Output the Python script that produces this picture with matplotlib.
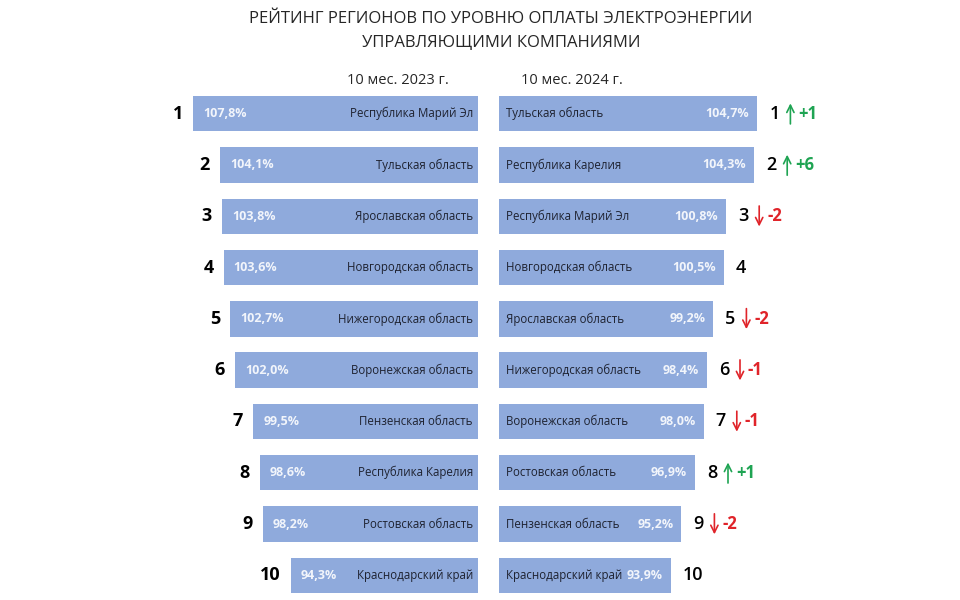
import matplotlib
matplotlib.use("Agg")
import matplotlib.pyplot as plt
from matplotlib.transforms import ScaledTranslation

# ---------------- data ----------------
title_lines = ["РЕЙТИНГ РЕГИОНОВ ПО УРОВНЮ ОПЛАТЫ ЭЛЕКТРОЭНЕРГИИ",
               "УПРАВЛЯЮЩИМИ КОМПАНИЯМИ"]
period_left = "10 мес. 2023 г."
period_right = "10 мес. 2024 г."

ranks = [1, 2, 3, 4, 5, 6, 7, 8, 9, 10]

regions_2023 = ["Республика Марий Эл", "Тульская область", "Ярославская область",
                "Новгородская область", "Нижегородская область", "Воронежская область",
                "Пензенская область", "Республика Карелия", "Ростовская область",
                "Краснодарский край"]
values_2023 = [107.8, 104.1, 103.8, 103.6, 102.7, 102.0, 99.5, 98.6, 98.2, 94.3]

regions_2024 = ["Тульская область", "Республика Карелия", "Республика Марий Эл",
                "Новгородская область", "Ярославская область", "Нижегородская область",
                "Воронежская область", "Ростовская область", "Пензенская область",
                "Краснодарский край"]
values_2024 = [104.7, 104.3, 100.8, 100.5, 99.2, 98.4, 98.0, 96.9, 95.2, 93.9]

rank_changes = [1, 6, -2, 0, -2, -1, -1, 1, -2, 0]

# ---------------- style ----------------
FONT = ["Open Sans", "DejaVu Sans"]
plt.rcParams["font.family"] = FONT
BAR = "#8FAADC"
NAME_C = "#1e2230"
PCT_C = "#f2f5fb"
UP_C = "#1fa453"
DOWN_C = "#e0242a"
TITLE_C = "#262626"

W, H = 960, 600
fig = plt.figure(figsize=(W / 100, H / 100), dpi=100)
fig.patch.set_facecolor("white")

# layout in pixels
top_px, bot_px = 88, 600
ylim = (10.48, 0.5)
bar_h = 0.69

# left panel (bars grow to the left from a common right edge)
L_left, L_right = 120, 478
L_scale = 7.23      # px per unit
L_base = 68.4
axL = fig.add_axes([L_left / W, (H - bot_px) / H, (L_right - L_left) / W, (bot_px - top_px) / H])
spanL = (L_right - L_left) / L_scale
axL.set_xlim(L_base + spanL, L_base)
axL.set_ylim(*ylim)
axL.axis("off")

# right panel (bars grow to the right from a common left edge)
R_left, R_right = 499, 940
R_scale = 8.0
R_base = 72.4
axR = fig.add_axes([R_left / W, (H - bot_px) / H, (R_right - R_left) / W, (bot_px - top_px) / H])
spanR = (R_right - R_left) / R_scale
axR.set_xlim(R_base, R_base + spanR)
axR.set_ylim(*ylim)
axR.axis("off")


def pct(v):
    return f"{v:.1f}%".replace(".", ",")


PX = 0.72  # points per pixel at 100 dpi
NAME_FS = 8.3
PCT_FS = 9

# left bars
axL.barh(ranks, [v - L_base for v in values_2023], left=L_base, height=bar_h, color=BAR)
for r, v, name in zip(ranks, values_2023, regions_2023):
    axL.annotate(pct(v), (v, r), xytext=(10 * PX, 0), textcoords="offset points",
                 ha="left", va="center", fontsize=PCT_FS, fontweight="bold", color=PCT_C)
    axL.annotate(name, (L_base, r), xytext=(-5 * PX, 0), textcoords="offset points",
                 ha="right", va="center", fontsize=NAME_FS, color=NAME_C)
    axL.annotate(str(r), (v, r), xytext=(-10 * PX, 0), textcoords="offset points",
                 ha="right", va="center", fontsize=13, fontweight="bold", color="black")

# right bars
axR.barh(ranks, [v - R_base for v in values_2024], left=R_base, height=bar_h, color=BAR)
for r, v, name, ch in zip(ranks, values_2024, regions_2024, rank_changes):
    axR.annotate(name, (R_base, r), xytext=(7 * PX, 0), textcoords="offset points",
                 ha="left", va="center", fontsize=NAME_FS, color=NAME_C)
    axR.annotate(pct(v), (v, r), xytext=(-8 * PX, 0), textcoords="offset points",
                 ha="right", va="center", fontsize=PCT_FS, fontweight="bold", color=PCT_C)
    axR.annotate(str(r), (v, r), xytext=(12 * PX, 0), textcoords="offset points",
                 ha="left", va="center", fontsize=13, fontweight="semibold", color="black")
    if ch != 0:
        col = UP_C if ch > 0 else DOWN_C
        nd = len(str(r))
        a_px = 12 + nd * 9 + 12
        trans = axR.transData + ScaledTranslation(a_px / 100, 0, fig.dpi_scale_trans)
        y0, y1 = (r + 0.2, r - 0.2) if ch > 0 else (r - 0.2, r + 0.2)
        axR.annotate("", xy=(v, y1), xycoords=trans, xytext=(v, y0), textcoords=trans,
                     arrowprops=dict(arrowstyle="->", color=col, lw=1.2,
                                     mutation_scale=13, shrinkA=0, shrinkB=0))
        axR.annotate(f"{ch:+d}", (v, r), xytext=((a_px + 8) * PX, 0), textcoords="offset points",
                     ha="left", va="center", fontsize=12, fontweight="bold", color=col)

# titles
fig.text(501 / W, 1 - 19 / H, title_lines[0], ha="center", va="center", fontsize=12, color=TITLE_C)
fig.text(501 / W, 1 - 43 / H, title_lines[1], ha="center", va="center", fontsize=12, color=TITLE_C)
fig.text(398 / W, 1 - 80 / H, period_left, ha="center", va="center", fontsize=10.5, color=TITLE_C)
fig.text(572 / W, 1 - 80 / H, period_right, ha="center", va="center", fontsize=10.5, color=TITLE_C)

fig.savefig("out.png", dpi=100, facecolor="white")
